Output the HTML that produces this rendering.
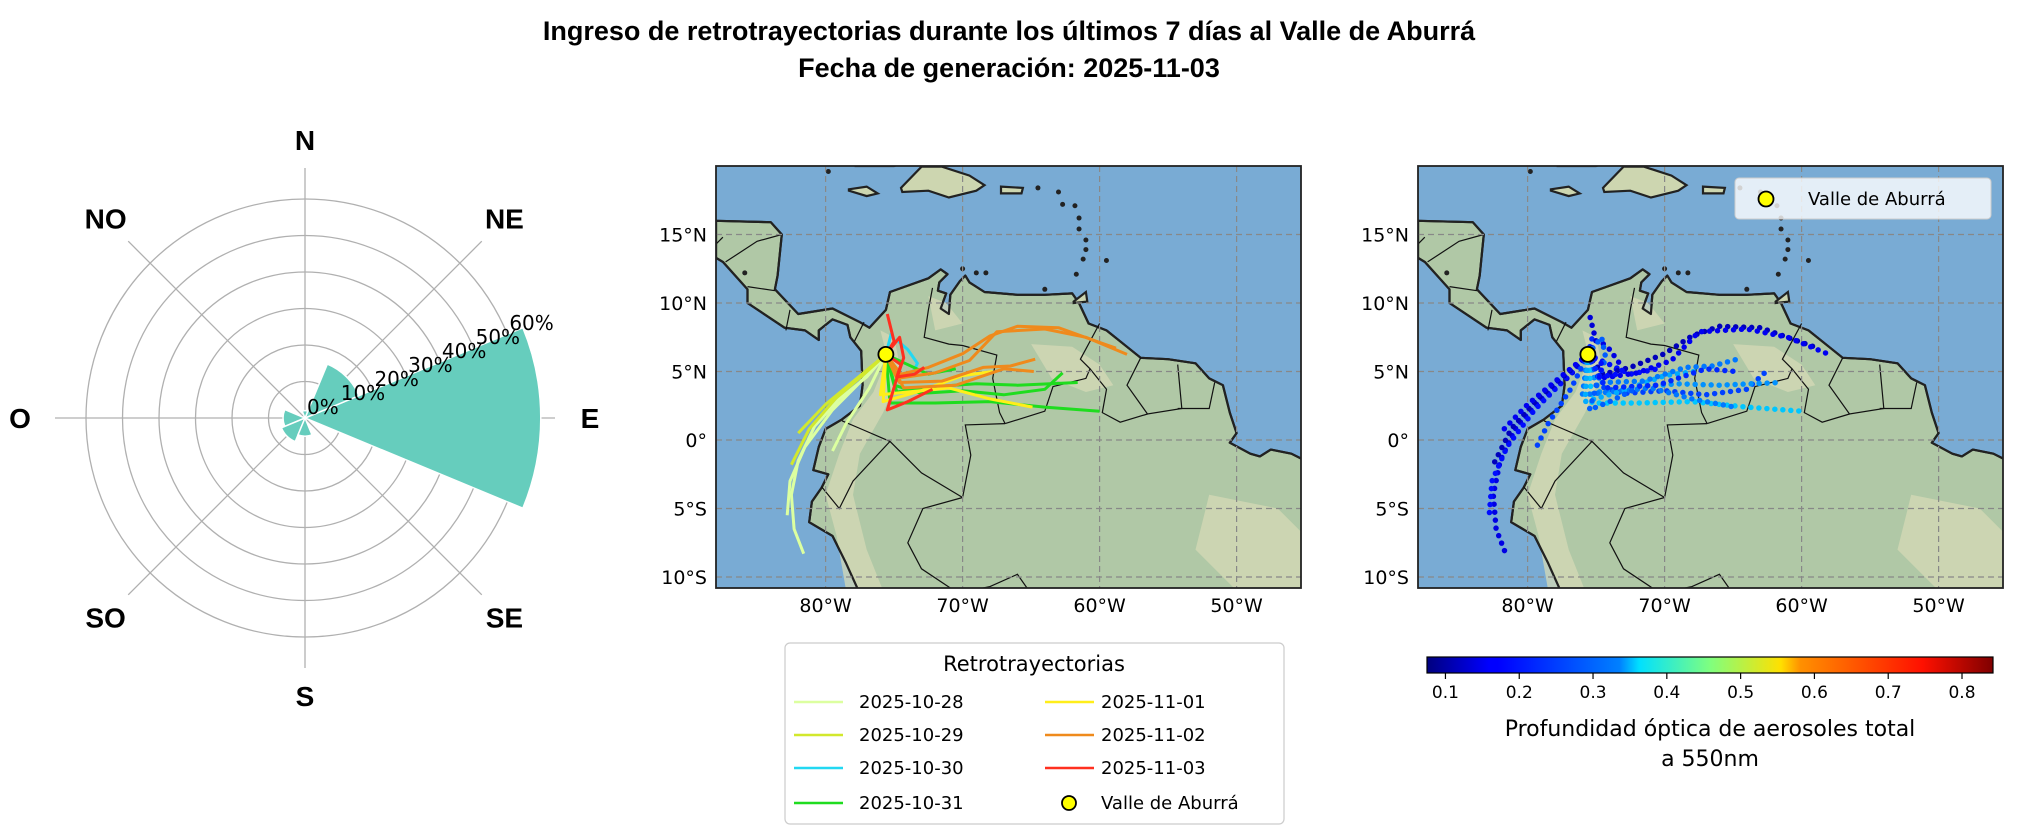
<!DOCTYPE html>
<html><head><meta charset="utf-8"><style>
html,body{margin:0;padding:0;background:#fff;}
svg{display:block;font-family:"DejaVu Sans","Liberation Sans",sans-serif;}
</style></head><body>
<svg id="fig" width="2019" height="840" viewBox="0 0 2019 840" xmlns="http://www.w3.org/2000/svg">
<defs>
<linearGradient id="jet" x1="0" x2="1" y1="0" y2="0">
<stop offset="0" stop-color="#00007f"/><stop offset="0.11" stop-color="#0000ff"/><stop offset="0.125" stop-color="#0000ff"/>
<stop offset="0.34" stop-color="#0080ff"/><stop offset="0.375" stop-color="#00e0ff"/><stop offset="0.5" stop-color="#7fff7f"/>
<stop offset="0.625" stop-color="#ffe000"/><stop offset="0.66" stop-color="#ff9000"/><stop offset="0.875" stop-color="#ff1000"/><stop offset="1" stop-color="#7f0000"/>
</linearGradient>
<clipPath id="clip1"><rect x="716" y="166" width="585" height="422"/></clipPath>
<clipPath id="clip2"><rect x="1418" y="166" width="585" height="422"/></clipPath>
</defs>
<text x="1009" y="40" text-anchor="middle" font-family="Liberation Sans, sans-serif" font-weight="bold" font-size="27">Ingreso de retrotrayectorias durante los últimos 7 días al Valle de Aburrá</text>
<text x="1009" y="77" text-anchor="middle" font-family="Liberation Sans, sans-serif" font-weight="bold" font-size="27">Fecha de generación: 2025-11-03</text>
<g id="polar"></g>
<g id="map1"></g>
<g id="map2"></g>
<g id="legend1"></g>
<g id="cbar"></g>
</svg>
<script>
// ---- wind rose data ----
const roseDirs = [0, 45, 90, 135, 180, 225, 270, 315]; // math angle, E = 0
const roseValues = [64.6, 16, 2, 0, 6, 7, 5, 0];
const roseTicks = [0, 10, 20, 30, 40, 50, 60];
const compassLabels = ['E','NE','N','NO','O','SO','S','SE'];
// ---- trajectory data (lon, lat), ending at Valle de Aburrá ----
const origin = [-75.6, 6.25];
const trajDates = ['2025-10-28','2025-10-29','2025-10-30','2025-10-31','2025-11-01','2025-11-02','2025-11-03'];
const trajColors = ['#dcffa0','#d2e82c','#22d8f2','#1fdc1f','#ffee1a','#ef8a1c','#ff3020'];
const traj1028 = [
 [[-75.6,6.25],[-77,4.6],[-79,3],[-80.8,1],[-82,-1.5],[-82.5,-4],[-82.3,-6.5],[-81.6,-8.3]],
 [[-75.6,6.25],[-77.5,4.2],[-79.5,2.2],[-81.5,-0.5],[-82.6,-3],[-82.8,-5.5]],
 [[-75.6,6.25],[-76.8,3.8],[-78.5,1.2],[-79.5,-0.8]]];
const traj1029 = [
 [[-75.6,6.25],[-77.2,4.8],[-79.3,3],[-81.2,0.8],[-82.5,-1.8]],
 [[-75.6,6.25],[-77.6,4.6],[-80,2.6],[-82,0.5]]];
const traj1030 = [
 [[-75.6,6.25],[-74.8,7.3],[-74,6.6],[-73.3,5.6],[-73.8,4.6]],
 [[-75.6,6.25],[-75.2,7.8]]];
const traj1031 = [
 [[-75.6,6.25],[-75,4],[-73,3.4],[-70,3.6],[-67,3.3],[-64,3.7],[-62.7,4.9]],
 [[-75.6,6.25],[-74.8,3.5],[-72,3.9],[-69,4.1],[-66,4],[-61.6,4.2]],
 [[-75.6,6.25],[-75.3,2.7],[-72,2.7],[-68,2.8],[-64,2.4],[-60,2.1]],
 [[-75.6,6.25],[-72.5,4.8],[-70.5,5.2]]];
const traj1101 = [
 [[-75.6,6.25],[-76,3.3],[-74,3.5],[-71,3.8],[-68,3],[-64.9,2.4]],
 [[-75.6,6.25],[-75.8,2.8],[-73,3.6],[-70,4.7],[-67.8,5]]];
const traj1102 = [
 [[-75.6,6.25],[-74.5,4.8],[-72.5,5.3],[-70,6.3],[-68,7.6],[-66,8.3],[-63,8.2],[-60.5,7.3],[-58.8,6.7]],
 [[-75.6,6.25],[-74.8,4.5],[-72,4.9],[-69.5,5.8],[-67.5,7.9],[-64,8.1],[-61,7.5],[-58,6.25]],
 [[-75.6,6.25],[-74.6,4.2],[-71.5,4.3],[-68.5,5.3],[-66.5,5.4],[-64.7,5.9]],
 [[-75.6,6.25],[-74.3,3.8],[-70.5,4],[-67,5.2],[-64.8,5.0]]];
const traj1103 = [
 [[-75.6,6.25],[-75,7.2],[-75.5,9.2]],
 [[-75.6,6.25],[-74.6,7.5],[-74.3,6],[-74.8,4.5],[-75.5,2.2],[-74,2.8],[-72.2,3.7]],
 [[-75.6,6.25],[-74.5,5.5],[-74.8,4.6],[-73.5,4.8],[-72.8,5.3]]];
const trajAll = [traj1028, traj1029, traj1030, traj1031, traj1101, traj1102, traj1103];
// AOD at 550nm per trajectory
const aod1028 = [0.15, 0.18, 0.22];
const aod1029 = [0.12, 0.16];
const aod1030 = [0.15, 0.2];
const aod1031 = [0.22, 0.28, 0.32, 0.18];
const aod1101 = [0.26, 0.3];
const aod1102 = [0.12, 0.16, 0.26, 0.2];
const aod1103 = [0.14, 0.24, 0.18];
const aodAll = [aod1028, aod1029, aod1030, aod1031, aod1101, aod1102, aod1103];
const cbarTicks = [0.1,0.2,0.3,0.4,0.5,0.6,0.7,0.8];
const latTicks = [15,10,5,0,-5,-10];
const lonTicks = [-80,-70,-60,-50];

const NS='http://www.w3.org/2000/svg';
function mk(tag, attrs, parent){const e=document.createElementNS(NS,tag);for(const k in attrs)e.setAttribute(k,attrs[k]);if(parent)parent.appendChild(e);return e;}

// ---------- polar ----------
const P=document.getElementById('polar');
const cx=305, cy=418, rPer=3.65;
const rad=d=>d*Math.PI/180;
[0,45,90,135].forEach(a=>{
  const s=mk('line',{x1:cx-250*Math.cos(rad(a)),y1:cy+250*Math.sin(rad(a)),x2:cx+250*Math.cos(rad(a)),y2:cy-250*Math.sin(rad(a)),stroke:'#b0b0b0','stroke-width':1.3},P);
  
  
});
roseTicks.forEach(t=>{ if(t===0)return;
  const c=mk('circle',{cx:cx,cy:cy,r:t*rPer,fill:'none',stroke:'#b0b0b0','stroke-width':1.3},P);
  
  
});
roseDirs.forEach((d,i)=>{
  const v=roseValues[i]; if(v<=0)return;
  const r=v*rPer, a0=rad(d-22.5), a1=rad(d+22.5);
  const p=mk('path',{d:`M${cx},${cy} L${cx+r*Math.cos(a0)},${cy-r*Math.sin(a0)} A${r},${r} 0 0 0 ${cx+r*Math.cos(a1)},${cy-r*Math.sin(a1)} Z`,fill:'#66cdbd',stroke:'#fff','stroke-width':1.5},P);
  
  
});
roseTicks.forEach(t=>{
  const r=t*rPer, a=rad(22.5);
  const tx=mk('text',{x:cx+r*Math.cos(a)+2,y:cy-r*Math.sin(a)-4,'font-size':20},P);
  tx.textContent=t+'%';
  
  
});
roseDirs.forEach((d,i)=>{
  const R=(d%90===0)?(d===0||d===180?285:278):282;
  const tx=mk('text',{x:cx+R*Math.cos(rad(d)),y:cy-R*Math.sin(rad(d))+10,'text-anchor':'middle','font-family':'Liberation Sans, sans-serif','font-weight':'bold','font-size':28},P);
  tx.textContent=compassLabels[i];
  
  
});

// ---------- maps ----------
const land=[[-88,16],[-84,15.9],[-83.2,15],[-83.5,12],[-83.7,11],[-82,9.2],[-79.5,9.6],[-77.5,8.6],[-76.8,8.2],[-75.6,9.5],[-75.3,10.8],[-74.2,11.2],[-72.5,11.8],[-71.6,12.45],[-71.1,12.1],[-71.7,11.5],[-71.8,10.9],[-71.2,10.7],[-71.6,9.6],[-71.0,9.2],[-70.9,10.6],[-70.2,11.6],[-69.8,12],[-69.5,11.5],[-68.4,10.8],[-66,10.6],[-64,10.6],[-62,10.7],[-61.5,10],[-60.8,8.5],[-59.5,8],[-58,6.8],[-57,6],[-55,5.9],[-53,5.6],[-52,4.5],[-51,4],[-50.5,2],[-50,0.5],[-50.5,-0.2],[-49,-1],[-48.3,-1.2],[-47.5,-0.7],[-46,-1],[-45,-1.5],[-45,-11],[-77.6,-11],[-78.5,-9],[-79.5,-7],[-81.2,-6],[-81,-4.5],[-80.3,-3.5],[-79.8,-2.5],[-80.9,-2.2],[-80.5,-0.5],[-80,0.8],[-78.8,1.5],[-77.5,2.5],[-77.3,4],[-77.4,6.5],[-78.2,7.5],[-78.4,8.4],[-79.5,8.8],[-80.5,8],[-80.5,7.3],[-81.5,8],[-83,8.2],[-85.7,10],[-85.7,11],[-87.5,13],[-88,13.3]];
const highlands=[
 [[-78.5,-11],[-79.2,-7],[-80,-4],[-79,-1],[-78,1.5],[-76.5,3.5],[-75.5,6],[-76,8],[-75,7.5],[-74.5,5],[-75.8,2],[-77.5,-1],[-78,-4],[-77,-8],[-75.8,-11]],
 [[-65,7],[-62,6.8],[-60,5.5],[-59,4],[-61,3.5],[-63.5,4.5]],
 [[-52,-4],[-47,-5],[-45,-7],[-45,-11],[-50,-11],[-53,-8]],
 [[-72.5,10.5],[-71.2,10],[-70,8.5],[-72,8]]];
const islands=[
 [[-74.5,18.4],[-73,19.95],[-71.5,19.95],[-69.5,19.3],[-68.4,18.6],[-69,18.2],[-71,17.7],[-72.5,18.2],[-74.4,18.1]],
 [[-78.3,18.3],[-77,18.5],[-76.2,18],[-77,17.8],[-78.3,18.2]],
 [[-67.2,18.5],[-65.6,18.4],[-65.7,18],[-67.2,18]],
 [[-77.8,20],[-75,20],[-74.3,20.2],[-77.8,20.2]],
 [[-61.9,10.1],[-61,10.8],[-60.9,10.1],[-61.9,10]]];
const smallIslands=[[-61.5,15.4],[-61,14.6],[-61,13.9],[-61.2,13.2],[-61.7,12.1],[-61.5,16.2],[-62.7,17.2],[-61.8,17.1],[-63,18.1],[-69,12.2],[-70,12.5],[-64,11],[-68.3,12.2],[-59.5,13.1],[-64.5,18.4],[-85.9,12.2],[-79.8,19.6]];
const borders=[
 [[-72.2,11.1],[-72.5,9.5],[-72.8,7.5],[-71,7],[-70,6.9],[-67.5,6.2],[-67.8,4.5],[-67.3,2],[-66.9,1.2]],
 [[-66.9,1.2],[-69.8,1.1],[-69.4,-1.1],[-70,-4.2]],
 [[-78.8,1.4],[-77.4,0.8],[-75.3,-0.1],[-73,-2.4],[-70,-4.2]],
 [[-80.3,-3.4],[-79,-5],[-78,-3],[-75.3,-0.1]],
 [[-70,-4.2],[-72.9,-5],[-74,-7.5],[-73,-9.4],[-70.6,-11]],
 [[-66.9,1.2],[-64,2.1],[-63.4,3.9],[-61,4.5],[-60.7,5.2],[-61.4,5.9],[-60,8.5]],
 [[-60.7,5.2],[-59.5,3.7],[-59.8,2],[-58.5,1.3],[-56.5,1.9]],
 [[-57,6],[-58,4],[-56.5,1.9],[-54,2.3],[-54.3,5.5]],
 [[-54.3,2.3],[-52,2.3],[-51.6,4.2]],
 [[-77.9,7.2],[-77.2,8.6]],[[-82.9,8],[-82.6,9.5]],[[-85.7,11.2],[-83.7,10.9]],
 [[-87.3,13],[-85,14.5],[-83.2,15]],[[-88,14.3],[-87.5,14.8]],
 [[-69.5,-11],[-68,-10.7],[-66,-9.8],[-65.3,-10.8]]];

function jet(v){
  const t=Math.max(0,Math.min(1,(v-0.075)/(0.842-0.075)));
  const f=x=>Math.max(0,Math.min(1,1.5-Math.abs(4*t-x)));
  return `rgb(${Math.round(255*f(3))},${Math.round(255*f(2))},${Math.round(255*f(1))})`;
}

function drawMap(g, x0, clipId, mode){
  const X=lon=>x0+(lon+88)*13.7, Y=lat=>166+(20-lat)*13.7;
  const pts=arr=>arr.map(p=>X(p[0]).toFixed(1)+','+Y(p[1]).toFixed(1)).join(' ');
  const c=mk('g',{'clip-path':`url(#${clipId})`},g);
  const sea=mk('rect',{x:x0,y:166,width:585,height:422,fill:'#79abd4'},c);
  
  
  const l=mk('polygon',{points:pts(land),fill:'#b0c8a6',stroke:'#222','stroke-width':2.2,'stroke-linejoin':'round'},c);
  
  
  highlands.forEach(h=>{const e=mk('polygon',{points:pts(h),fill:'#d6d9b6',opacity:0.75},c);
    
    });
  mk('polygon',{points:pts(land),fill:'none',stroke:'#222','stroke-width':2.2,'stroke-linejoin':'round'},c);
  islands.forEach(h=>{const e=mk('polygon',{points:pts(h),fill:'#cdd6b0',stroke:'#222','stroke-width':2.2},c);
    
    });
  smallIslands.forEach(p=>{const e=mk('circle',{cx:X(p[0]),cy:Y(p[1]),r:2.5,fill:'#222'},c);
    
    });
  borders.forEach(b=>{const e=mk('polyline',{points:pts(b),fill:'none',stroke:'#111','stroke-width':1.2},c);
    
    });
  lonTicks.forEach(v=>{const e=mk('line',{x1:X(v),x2:X(v),y1:166,y2:588,stroke:'#888','stroke-width':1.2,'stroke-dasharray':'6,4'},c);
    
    });
  latTicks.forEach(v=>{const e=mk('line',{x1:x0,x2:x0+585,y1:Y(v),y2:Y(v),stroke:'#888','stroke-width':1.2,'stroke-dasharray':'6,4'},c);
    
    });
  trajAll.forEach((set,di)=>{
    set.forEach((tr,ti)=>{
      let e;
      if(mode==='line'){
        e=mk('polyline',{points:pts(tr),fill:'none',stroke:trajColors[di],'stroke-width':3,'stroke-linejoin':'round'},c);
      } else {
        e=mk('polyline',{points:pts(tr),fill:'none',stroke:jet(aodAll[di][ti]),'stroke-width':5.5,'stroke-linecap':'round','stroke-dasharray':'0,8'},c);
      }
      
      
    });
  });
  const o=mk('circle',{cx:X(origin[0]),cy:Y(origin[1]),r:7.5,fill:'#ffff00',stroke:'#000','stroke-width':1.8},c);
  
  
  const fr=mk('rect',{x:x0,y:166,width:585,height:422,fill:'none',stroke:'#222','stroke-width':1.8},g);
  
  
  latTicks.forEach(v=>{const t=mk('text',{x:x0-9,y:Y(v)+7,'text-anchor':'end','font-size':19},g);
    t.textContent=(v===0?'0°':Math.abs(v)+'°'+(v>0?'N':'S'));
    
    });
  lonTicks.forEach(v=>{const t=mk('text',{x:X(v),y:612,'text-anchor':'middle','font-size':19},g);
    t.textContent=Math.abs(v)+'°W';
    
    });
}
drawMap(document.getElementById('map1'),716,'clip1','line');
drawMap(document.getElementById('map2'),1418,'clip2','dot');

// right map legend
const m2=document.getElementById('map2');
const lb=mk('rect',{x:1735,y:178,width:256,height:41,rx:4,fill:'#ffffff','fill-opacity':0.8,stroke:'#ccc'},m2);


const lm=mk('circle',{cx:1766,cy:199,r:7.5,fill:'#ffff00',stroke:'#000','stroke-width':1.8},m2);


const lt=mk('text',{x:1808,y:205,'font-size':18},m2);
lt.textContent='Valle de Aburrá';



// trajectory legend
const L=document.getElementById('legend1');
const box=mk('rect',{x:785,y:643,width:499,height:181,rx:5,fill:'#fff',stroke:'#ccc','stroke-width':1.2},L);


const lt1=mk('text',{x:1034,y:671,'text-anchor':'middle','font-size':21},L);
lt1.textContent='Retrotrayectorias';


const rowsY=[702,735,768,803];
const entries=trajDates.concat(['Valle de Aburrá']);
entries.forEach((name,i)=>{
  const col=i<4?0:1, row=i%4;
  const lx=col?1045:794, tx=col?1101:859, y=rowsY[row];
  if(i<7){
    const ln=mk('line',{x1:lx,x2:lx+49,y1:y,y2:y,stroke:trajColors[i],'stroke-width':2.4},L);
    
    
  } else {
    const mm=mk('circle',{cx:lx+24,cy:y,r:7,fill:'#ffff00',stroke:'#000','stroke-width':1.8},L);
    
    
  }
  const t=mk('text',{x:tx,y:y+6,'font-size':18},L);
  t.textContent=name;
  
  
});

// colorbar
const C=document.getElementById('cbar');
const cbx0=1427, cbx1=1993, vmin=0.075, vmax=0.842;
const CX=v=>cbx0+(v-vmin)/(vmax-vmin)*(cbx1-cbx0);
const cb=mk('rect',{x:cbx0,y:657,width:cbx1-cbx0,height:16,fill:'url(#jet)',stroke:'#000','stroke-width':1.2},C);


cbarTicks.forEach(v=>{
  const tk=mk('line',{x1:CX(v),x2:CX(v),y1:673,y2:679,stroke:'#000','stroke-width':1.2},C);
  
  
  const t=mk('text',{x:CX(v),y:698,'text-anchor':'middle','font-size':17},C);
  t.textContent=v.toFixed(1);
  
  
});
const cl1=mk('text',{x:1710,y:736,'text-anchor':'middle','font-size':22},C);
cl1.textContent='Profundidad óptica de aerosoles total';


const cl2=mk('text',{x:1710,y:766,'text-anchor':'middle','font-size':22},C);
cl2.textContent='a 550nm';


</script>
</body></html>
